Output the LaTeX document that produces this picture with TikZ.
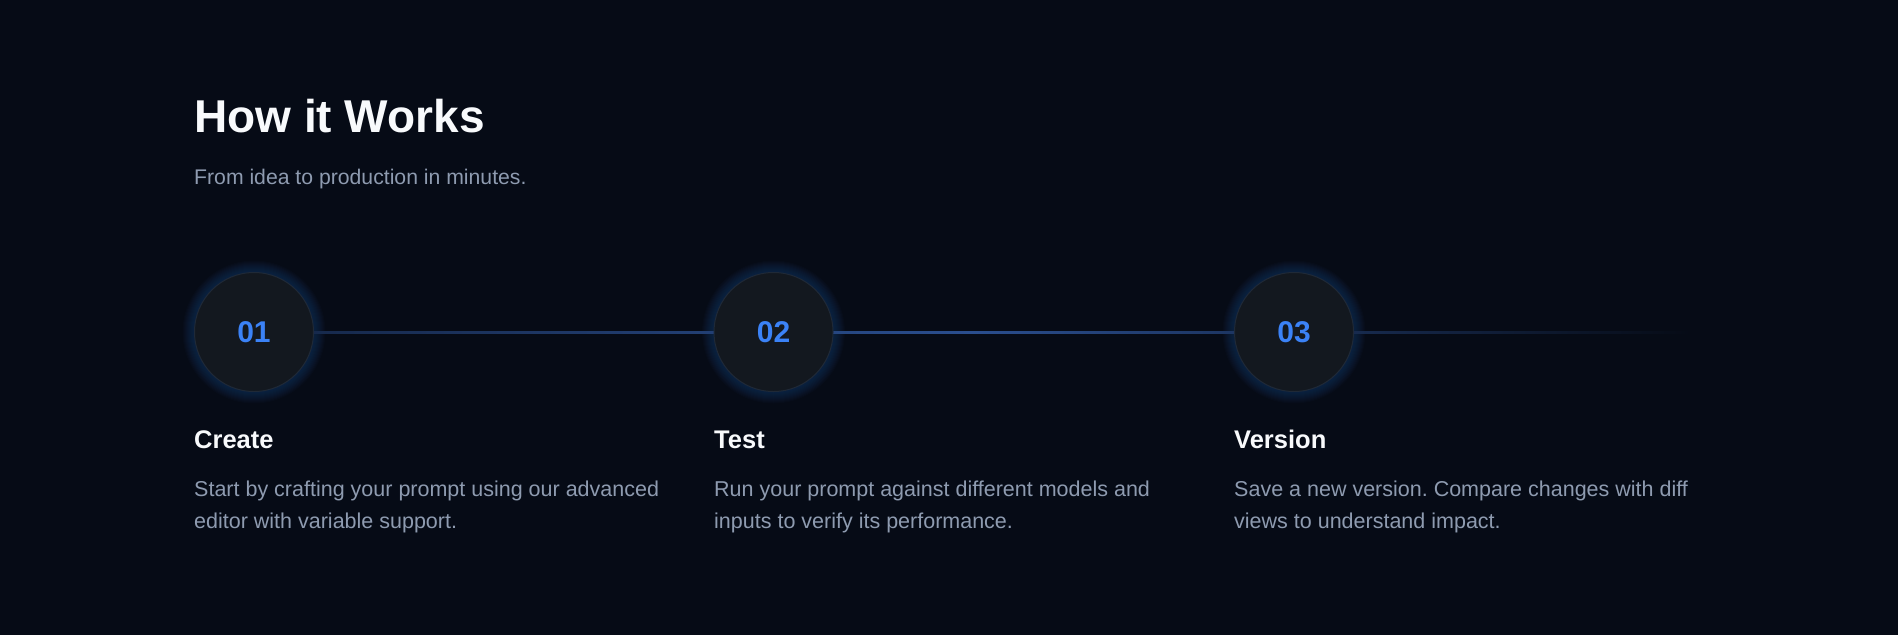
\documentclass[tikz,border=0pt]{standalone}
\usepackage{fontspec}
\setmainfont{Liberation Sans}
\usetikzlibrary{calc}
\frenchspacing
\definecolor{bgc}{HTML}{060B16}
\definecolor{titlec}{HTML}{F8FAFC}
\definecolor{mutedc}{HTML}{8E9BB0}
\definecolor{numc}{HTML}{3B82F6}
\definecolor{circfill}{HTML}{13181F}
\definecolor{circdraw}{HTML}{1F2937}
\definecolor{lineblue}{HTML}{2A4E8E}
\pgfdeclarehorizontalshading{lineshade}{100bp}{color(0bp)=(bgc); color(25bp)=(bgc); color(27bp)=(lineblue!45!bgc); color(50bp)=(lineblue); color(75bp)=(bgc); color(100bp)=(bgc)}
\pgfdeclarelayer{bglayer}
\pgfdeclarelayer{backlayer}
\pgfsetlayers{bglayer,backlayer,main}
\tikzset{
  stepcircle/.style={circle, minimum size=119pt, inner sep=0pt, fill=circfill, draw=circdraw, line width=1pt,
    text=numc, font=\fontsize{30}{30}\selectfont\bfseries},
  titletext/.style={anchor=base west, inner sep=0pt, text=titlec, font=\fontsize{46}{46}\selectfont\bfseries},
  subtext/.style={anchor=base west, inner sep=0pt, text=mutedc, font=\fontsize{21.2}{26}\selectfont},
  headtext/.style={anchor=base west, inner sep=0pt, text=titlec, font=\fontsize{25.5}{28}\selectfont\bfseries},
  bodytext/.style={anchor=base west, inner sep=0pt, text=mutedc, font=\fontsize{21.5}{32.5}\selectfont},
}
\newcommand{\bodylines}[2]{\parbox[t]{560pt}{\raggedright #1\\#2}}
\begin{document}
\begin{tikzpicture}[x=1pt,y=-1pt]
\begin{pgfonlayer}{bglayer}
\fill[bgc] (0,0) rectangle (1898,635);
\end{pgfonlayer}
\useasboundingbox (0,0) rectangle (1898,635);

\node[titletext] (title) at (194,132.5) {How it Works};
\node[subtext] (sub) at (194,184) {From idea to production in minutes.};

\node[stepcircle] (c1) at (254,332) {01};
\node[stepcircle] (c2) at (773.5,332) {02};
\node[stepcircle] (c3) at (1294,332) {03};
\coordinate (lineend) at (1690,332);

\begin{pgfonlayer}{backlayer}
\foreach \c in {c1,c2,c3}{
  \foreach \i in {1,...,12}{
    \fill[numc, opacity=0.02] (\c.center) circle[radius=59.5+\i];
  }
}
\shade[shading=lineshade] ($(c1.center)+(0,-1)$) rectangle ($(lineend)+(0,1)$);
\end{pgfonlayer}

\node[headtext] (h1) at (194,448) {Create};
\node[headtext] (h2) at (714,448) {Test};
\node[headtext] (h3) at (1234,448) {Version};

\node[bodytext] (b1) at (194,496) {\bodylines{Start by crafting your prompt using our advanced}{editor with variable support.}};
\node[bodytext] (b2) at (714,496) {\bodylines{Run your prompt against different models and}{inputs to verify its performance.}};
\node[bodytext] (b3) at (1234,496) {\bodylines{Save a new version. Compare changes with diff}{views to understand impact.}};
\end{tikzpicture}
\end{document}
